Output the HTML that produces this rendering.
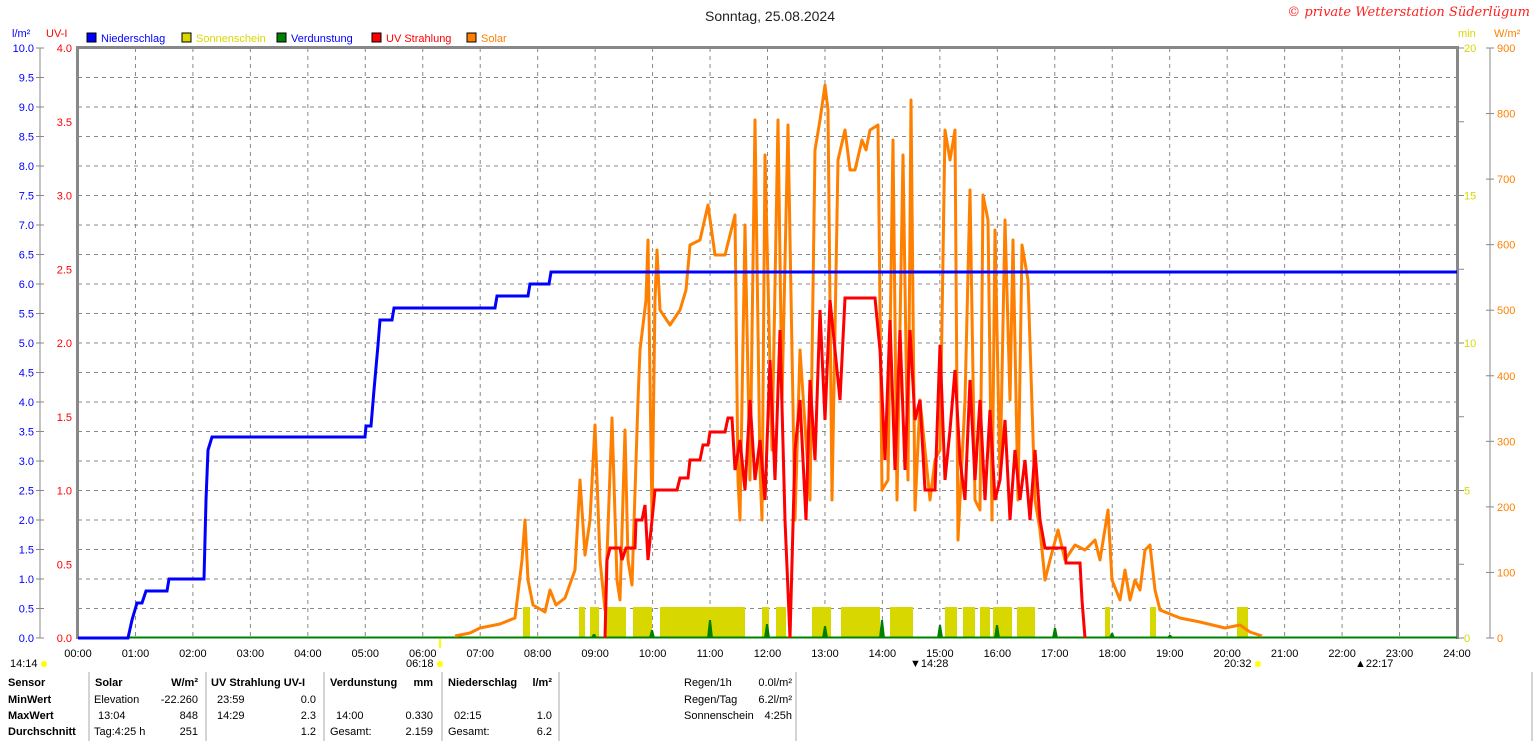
<!DOCTYPE html>
<html><head><meta charset="utf-8"><style>
body{margin:0;background:#fff;width:1536px;height:741px;overflow:hidden;font-family:"Liberation Sans",sans-serif}
svg text{font-family:"Liberation Sans",sans-serif;font-size:11px}
</style></head><body>
<svg width="1536" height="741" xmlns="http://www.w3.org/2000/svg">
<text x="770" y="21" text-anchor="middle" style="font-size:14px" fill="#222">Sonntag, 25.08.2024</text>
<text x="1530" y="16" text-anchor="end" style="font-size:13px;font-style:italic;font-family:'DejaVu Serif',serif" fill="#ff2020">© private Wetterstation Süderlügum</text>
<text x="12" y="37" fill="#0000ff">l/m²</text><text x="46" y="37" fill="#ff0000">UV-I</text>
<rect x="87" y="33" width="9" height="9" fill="#0000ff" stroke="#000"/><text x="101" y="42" fill="#0000ff">Niederschlag</text>
<rect x="182" y="33" width="9" height="9" fill="#d8d800" stroke="#000"/><text x="196" y="42" fill="#d8d800">Sonnenschein</text>
<rect x="277" y="33" width="9" height="9" fill="#008000" stroke="#000"/><text x="291" y="42" fill="#0000ff">Verdunstung</text>
<rect x="372" y="33" width="9" height="9" fill="#ff0000" stroke="#000"/><text x="386" y="42" fill="#ff0000">UV Strahlung</text>
<rect x="467" y="33" width="9" height="9" fill="#ff8000" stroke="#000"/><text x="481" y="42" fill="#ff8000">Solar</text>
<text x="1458" y="37" fill="#d8d800">min</text><text x="1494" y="37" fill="#ff8000">W/m²</text>
<g id="grid" stroke="#888" stroke-dasharray="4,4" stroke-width="1"></g>
<g id="axes"></g>
<g id="bars"></g>
<rect x="77" y="46" width="1381" height="3" fill="#888"/>
<rect x="76" y="46" width="3" height="593" fill="#888"/>
<rect x="1456" y="46" width="3" height="593" fill="#888"/>
<line x1="78" y1="637.5" x2="1457" y2="637.5" stroke="#008000" stroke-width="2"/>
<polyline fill="none" stroke="#ff8000" stroke-width="3" stroke-linejoin="round" points="455,636 470,633 480,628 500,624 515,618 522,560 525,520 528,580 533,605 545,612 550,590 556,605 565,598 575,570 580,480 585,555 590,520 595,425 600,560 605,610 612,418 617,580 620,600 625,430 628,560 632,585 638,400 640,350 646,300 648,240 652,520 655,300 657,250 660,310 670,325 680,310 686,290 690,245 700,240 708,205 715,255 725,255 735,215 738,480 740,520 745,225 750,480 755,120 760,470 762,520 765,155 772,450 778,120 782,400 788,125 795,520 800,350 810,500 815,150 820,120 825,85 828,110 832,500 838,160 845,130 850,170 855,170 862,140 866,150 870,130 878,125 882,490 888,480 893,140 897,500 903,155 908,480 911,100 915,510 920,400 930,500 935,460 940,450 945,130 950,160 955,130 958,540 965,400 970,190 975,500 980,510 983,195 988,220 992,520 995,230 1000,480 1005,220 1010,400 1013,240 1018,500 1022,245 1028,280 1035,500 1040,530 1045,580 1050,560 1058,530 1065,560 1075,545 1085,550 1095,540 1100,560 1108,510 1112,580 1120,600 1125,570 1130,600 1135,580 1140,590 1145,550 1150,545 1155,590 1160,610 1180,618 1200,622 1225,628 1240,625 1250,632 1262,636"/>
<polyline fill="none" stroke="#ff0000" stroke-width="3" points="605,638 607,560 610,548 620,548 622,560 626,548 635,548 636,520 642,520 645,505 648,560 652,520 655,490 677,490 680,478 688,478 690,460 700,460 703,445 708,445 710,432 725,432 728,418 732,418 735,470 740,440 745,490 750,400 755,480 760,440 765,500 770,360 775,480 780,330 785,520 790,638 795,450 800,400 806,520 810,380 815,460 820,310 825,420 830,300 835,350 840,400 845,298 848,298 875,298 880,350 885,460 890,320 895,470 900,330 905,470 910,330 915,420 920,400 925,490 935,490 940,345 945,480 950,430 955,370 960,460 965,500 970,380 975,480 980,400 985,500 990,410 995,500 1000,480 1005,420 1010,520 1015,450 1020,500 1025,460 1030,520 1035,450 1040,520 1045,548 1065,548 1066,563 1080,563 1082,600 1085,638"/>
<polyline fill="none" stroke="#0000ff" stroke-width="3" points="78,638 128,638 132,620 137,603 142,603 146,591 167,591 169,579 204,579 206,500 208,450 212,437 365,437 366,426 371,426 374,390 378,345 380,320 392,320 394,308 495,308 497,296 528,296 530,284 549,284 551,272 1457,272"/>
<g id="lbl"></g>
<text x="10" y="667" fill="#000">14:14</text><circle cx="44" cy="664" r="3" fill="#ff0"/>
<text x="406" y="667" fill="#000">06:18</text><circle cx="440" cy="664" r="3" fill="#ff0"/>
<line x1="440" y1="639" x2="440" y2="648" stroke="#ff0" stroke-width="2"/>
<text x="910" y="667" fill="#000">▼14:28</text>
<text x="1224" y="667" fill="#000">20:32</text><circle cx="1258" cy="664" r="3" fill="#ff0"/>
<text x="1355" y="667" fill="#000">▲22:17</text>
<g style="font-size:11px">
<text x="8" y="686" font-weight="bold">Sensor</text><text x="8" y="703" font-weight="bold">MinWert</text><text x="8" y="719" font-weight="bold">MaxWert</text><text x="8" y="735" font-weight="bold">Durchschnitt</text>
<text x="95" y="686" font-weight="bold">Solar</text><text x="198" y="686" text-anchor="end" font-weight="bold">W/m²</text>
<text x="94" y="703">Elevation</text><text x="198" y="703" text-anchor="end">-22.260</text>
<text x="98" y="719">13:04</text><text x="198" y="719" text-anchor="end">848</text>
<text x="94" y="735">Tag:4:25 h</text><text x="198" y="735" text-anchor="end">251</text>
<text x="211" y="686" font-weight="bold">UV Strahlung UV-I</text>
<text x="217" y="703">23:59</text><text x="316" y="703" text-anchor="end">0.0</text>
<text x="217" y="719">14:29</text><text x="316" y="719" text-anchor="end">2.3</text>
<text x="316" y="735" text-anchor="end">1.2</text>
<text x="330" y="686" font-weight="bold">Verdunstung</text><text x="433" y="686" text-anchor="end" font-weight="bold">mm</text>
<text x="336" y="719">14:00</text><text x="433" y="719" text-anchor="end">0.330</text>
<text x="330" y="735">Gesamt:</text><text x="433" y="735" text-anchor="end">2.159</text>
<text x="448" y="686" font-weight="bold">Niederschlag</text><text x="552" y="686" text-anchor="end" font-weight="bold">l/m²</text>
<text x="454" y="719">02:15</text><text x="552" y="719" text-anchor="end">1.0</text>
<text x="448" y="735">Gesamt:</text><text x="552" y="735" text-anchor="end">6.2</text>
<text x="684" y="686">Regen/1h</text><text x="792" y="686" text-anchor="end">0.0l/m²</text>
<text x="684" y="703">Regen/Tag</text><text x="792" y="703" text-anchor="end">6.2l/m²</text>
<text x="684" y="719">Sonnenschein</text><text x="792" y="719" text-anchor="end">4:25h</text>
</g>
<g stroke="#aaa"><line x1="89" y1="672" x2="89" y2="741"/><line x1="206" y1="672" x2="206" y2="741"/><line x1="324" y1="672" x2="324" y2="741"/><line x1="442" y1="672" x2="442" y2="741"/><line x1="559" y1="672" x2="559" y2="741"/><line x1="796" y1="672" x2="796" y2="741"/><line x1="1532" y1="672" x2="1532" y2="741"/></g>
</svg>
<script>
const ns="http://www.w3.org/2000/svg";
function el(p,t,a,txt){const e=document.createElementNS(ns,t);for(const k in a)e.setAttribute(k,a[k]);if(txt!==undefined)e.textContent=txt;document.getElementById(p).appendChild(e);}
for(let h=1;h<24;h++){const x=78+h*1379/24;el('grid','line',{x1:x,y1:48,x2:x,y2:638});}
for(let i=1;i<20;i++){const y=638-i*29.5;el('grid','line',{x1:78,y1:y,x2:1457,y2:y});}
for(let h=0;h<=24;h++){const x=78+h*1379/24;el('lbl','text',{x:x,y:657,'text-anchor':'middle',fill:'#000'},(h<10?'0':'')+h+':00');}
for(let i=0;i<=20;i++){const y=638-i*29.5;
 el('lbl','text',{x:34,y:y+4,'text-anchor':'end',fill:'#0000ff'},(i/2).toFixed(1));
 el('axes','line',{x1:36,y1:y,x2:44,y2:y,stroke:'#888'});
}
for(let i=0;i<=8;i++){const y=638-i*73.75;
 el('lbl','text',{x:72,y:y+4,'text-anchor':'end',fill:'#ff0000'},(i/2).toFixed(1));
 el('axes','line',{x1:1458,y1:y,x2:1464,y2:y,stroke:'#888'});}
el('axes','line',{x1:40,y1:48,x2:40,y2:638,stroke:'#888'});
el('axes','line',{x1:1490,y1:48,x2:1490,y2:638,stroke:'#888'});
for(let i=0;i<=20;i+=5){const y=638-i*29.5;el('lbl','text',{x:1464,y:y+4,fill:'#d8d800'},String(i));}
for(let w=0;w<=900;w+=100){const y=638-w*590/900;el('lbl','text',{x:1497,y:y+4,fill:'#ff8000'},String(w));el('axes','line',{x1:1486,y1:y,x2:1494,y2:y,stroke:'#888'});}
const b=[[523,530],[579,585],[590,599],[604,626],[633,652],[660,745],[762,769],[776,786],[812,831],[841,880],[890,913],[945,957],[963,975],[980,990],[993,1012],[1017,1035],[1105,1110],[1150,1156],[1237,1248]];
b.forEach(r=>el('bars','rect',{x:r[0],y:607,width:r[1]-r[0],height:31,fill:'#d8d800'}));
[[594,4],[652,8],[710,18],[767,14],[825,12],[882,18],[940,13],[997,13],[1055,10],[1112,5],[1170,3]].forEach(s=>el('bars','polygon',{points:`${s[0]-3},638 ${s[0]-1},${638-s[1]} ${s[0]+1},${638-s[1]} ${s[0]+3},638`,fill:'#008000'}));
</script>
</body></html>
